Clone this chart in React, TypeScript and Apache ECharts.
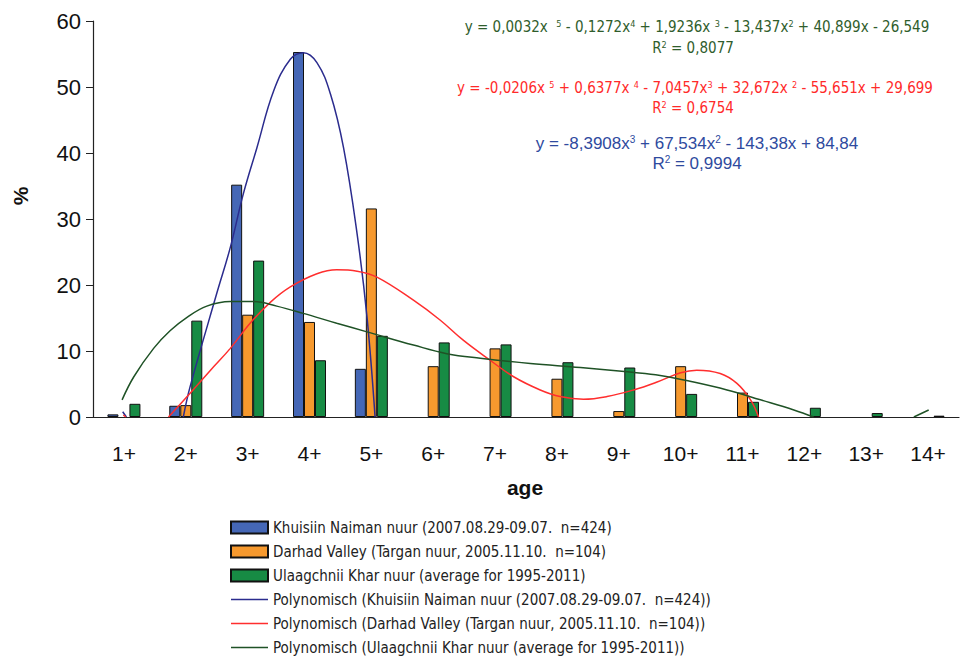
import React, { useEffect, useRef } from "react";
import * as echarts from "echarts";

const categories = ["1+", "2+", "3+", "4+", "5+", "6+", "7+", "8+", "9+", "10+", "11+", "12+", "13+", "14+"];
const khuisiin = [0.4, 1.7, 35.2, 55.3, 7.3, null, null, null, null, null, null, null, null, null];
const darhad = [null, 1.8, 15.5, 14.4, 31.6, 7.7, 10.4, 5.8, 0.9, 7.7, 3.7, null, null, null];
const ulaag = [2.0, 14.6, 23.7, 8.6, 12.3, 11.3, 11.0, 8.3, 7.5, 3.5, 2.3, 1.4, 0.6, 0.2];

const seriesNames = [
  "Khuisiin Naiman nuur (2007.08.29-09.07.  n=424)",
  "Darhad Valley (Targan nuur, 2005.11.10.  n=104)",
  "Ulaagchnii Khar nuur (average for 1995-2011)",
  "Polynomisch (Khuisiin Naiman nuur (2007.08.29-09.07.  n=424))",
  "Polynomisch (Darhad Valley (Targan nuur, 2005.11.10.  n=104))",
  "Polynomisch (Ulaagchnii Khar nuur (average for 1995-2011))",
];

// trend curves, points: [age position, %]
const khuisiinTrend: any[] = [
  [0.98, 0.8], [1.04, 0], [1.5, "-"],
  [1.96, 0], [2.07, 4.6], [2.5, 18.7], [2.72, 25.7], [2.93, 33.8], [3.15, 40.8], [3.42, 49.4],
  [3.69, 54.2], [3.9, 55.2], [4.12, 53.7], [4.34, 48.9], [4.55, 40.8], [4.77, 27.7], [4.93, 15.1], [5.06, 0],
];
const darhadTrend: any[] = [
  [0.99, 0.3], [1.03, 0], [1.4, "-"],
  [1.72, 0], [2.07, 3.6], [2.4, 7.1], [2.72, 10.4], [3.04, 14.2], [3.37, 17.4], [3.69, 19.7],
  [4.12, 21.7], [4.44, 22.3], [4.77, 22.1], [5.09, 21.2], [5.68, 17.7], [6.11, 14.7], [6.49, 11.6],
  [6.92, 8.6], [7.3, 6.1], [7.73, 4.1], [8.05, 3.1], [8.43, 2.7], [8.81, 3.1], [9.24, 4.1], [9.62, 5.3],
  [10.0, 6.7], [10.26, 7.1], [10.64, 6.6], [10.91, 5.1], [11.13, 2.6], [11.26, 0],
];
const ulaagTrend: any[] = [
  [0.97, 2.6], [1.16, 6.1], [1.48, 10.4], [1.75, 13.1], [2.02, 15.1], [2.34, 16.8], [2.72, 17.5],
  [3.1, 17.5], [3.47, 16.8], [3.9, 15.7], [4.44, 14.2], [4.93, 12.9], [5.68, 10.9], [6.22, 9.6],
  [6.76, 8.9], [7.57, 8.1], [8.38, 7.5], [9.18, 6.8], [9.67, 6.3], [10.21, 5.3], [10.75, 4.1],
  [11.29, 2.6], [11.83, 1.06], [12.15, 0], [13.0, "-"], [13.77, 0], [14.01, 1.06],
];

const eqGreen = "y = 0,0032x  {s|5} - 0,1272x{s|4} + 1,9236x {s|3} - 13,437x{s|2} + 40,899x - 26,549";
const r2Green = "R{s|2} = 0,8077";
const eqRed = "y = -0,0206x {s|5} + 0,6377x {s|4} - 7,0457x{s|3} + 32,672x {s|2} - 55,651x + 29,699";
const r2Red = "R{s|2} = 0,6754";
const eqBlue = "y = -8,3908x{s|3} + 67,534x{s|2} - 143,38x + 84,84";
const r2Blue = "R{s|2} = 0,9994";

const FONT = "'Liberation Sans', Arial, sans-serif";
const NARROW = "'DejaVu Sans Condensed', 'Liberation Sans', sans-serif";

function eqText(text: string, x: number, y: number, color: string, size: number, family: string) {
  return {
    type: "text",
    x,
    y,
    style: {
      text,
      fill: color,
      font: `${size}px ${family}`,
      fontSize: size,
      fontFamily: family,
      align: "center",
      verticalAlign: "middle",
      rich: {
        s: { fontSize: Math.round(size * 0.6), fontFamily: family, fill: color, verticalAlign: "top", padding: [0, 0, 6, 0] },
      },
    },
  };
}

const lineIcon = "path://M0,0L37,0L37,1.4L0,1.4Z";

export default function App() {
  const ref = useRef<HTMLDivElement>(null);
  useEffect(() => {
    if (!ref.current) return;
    const chart = echarts.init(ref.current, null, { renderer: "svg" });
    const barItem = (color: string) => ({ color, borderColor: "#111", borderWidth: 1 });
    chart.setOption({
      animation: false,
      backgroundColor: "#fff",
      textStyle: { fontFamily: FONT },
      grid: { left: 93, right: 5, top: 21, bottom: 241, containLabel: false },
      legend: {
        orient: "vertical",
        left: 230,
        top: 519,
        padding: 0,
        itemWidth: 37,
        itemHeight: 12,
        itemGap: 7,
        data: [
          { name: seriesNames[0], icon: "rect" },
          { name: seriesNames[1], icon: "rect" },
          { name: seriesNames[2], icon: "rect" },
          { name: seriesNames[3], icon: lineIcon },
          { name: seriesNames[4], icon: lineIcon },
          { name: seriesNames[5], icon: lineIcon },
        ],
        textStyle: { fontFamily: NARROW, fontSize: 15, color: "#222", lineHeight: 17 },
      },
      xAxis: [
        {
          type: "category",
          data: categories,
          axisLine: { lineStyle: { color: "#222", width: 1.2 } },
          axisTick: { length: 6, lineStyle: { color: "#222" } },
          axisLabel: { fontSize: 21, color: "#111", margin: 26, fontFamily: FONT },
        },
        { type: "value", min: 0.5, max: 14.5, show: false },
      ],
      yAxis: {
        type: "value",
        min: 0,
        max: 60,
        interval: 10,
        splitLine: { show: false },
        axisLine: { show: true, lineStyle: { color: "#222", width: 1.2 } },
        axisTick: { show: true, length: 7, lineStyle: { color: "#222" } },
        axisLabel: { fontSize: 22, color: "#111", margin: 12, fontFamily: FONT },
      },
      series: [
        { name: seriesNames[0], type: "bar", data: khuisiin, barWidth: 11, barGap: "0%", itemStyle: barItem("#4567B6") },
        { name: seriesNames[1], type: "bar", data: darhad, barWidth: 11, barGap: "0%", itemStyle: barItem("#F6992E") },
        { name: seriesNames[2], type: "bar", data: ulaag, barWidth: 11, barGap: "0%", itemStyle: barItem("#178B44") },
        {
          name: seriesNames[3], type: "line", xAxisIndex: 1, data: khuisiinTrend, symbol: "none", smooth: 0.4,
          lineStyle: { color: "#2B2C8E", width: 1.5 }, itemStyle: { color: "#2B2C8E" },
        },
        {
          name: seriesNames[4], type: "line", xAxisIndex: 1, data: darhadTrend, symbol: "none", smooth: 0.4,
          lineStyle: { color: "#FF2E2E", width: 1.5 }, itemStyle: { color: "#FF2E2E" },
        },
        {
          name: seriesNames[5], type: "line", xAxisIndex: 1, data: ulaagTrend, symbol: "none", smooth: 0.4,
          lineStyle: { color: "#1F5226", width: 1.5 }, itemStyle: { color: "#1F5226" },
        },
      ],
      graphic: [
        eqText(eqGreen, 697, 27, "#2F5D2C", 15, NARROW),
        eqText(r2Green, 693, 48, "#2F5D2C", 15, NARROW),
        eqText(eqRed, 695, 88, "#FF2A2A", 15, NARROW),
        eqText(r2Red, 693, 108, "#FF2A2A", 15, NARROW),
        eqText(eqBlue, 697, 143, "#2E4A9E", 17, FONT),
        eqText(r2Blue, 697, 163, "#2E4A9E", 17, FONT),
        {
          type: "text", x: 525, y: 487,
          style: { text: "age", fill: "#111", font: `bold 21px ${FONT}`, align: "center", verticalAlign: "middle" },
        },
        {
          type: "text", x: 20, y: 196, rotation: Math.PI / 2,
          style: { text: "%", fill: "#111", font: `bold 21px ${FONT}`, align: "center", verticalAlign: "middle" },
        },
      ],
    });
    return () => chart.dispose();
  }, []);
  return <div ref={ref} style={{ position: "fixed", left: 0, top: 0, width: 964, height: 658 }} />;
}
